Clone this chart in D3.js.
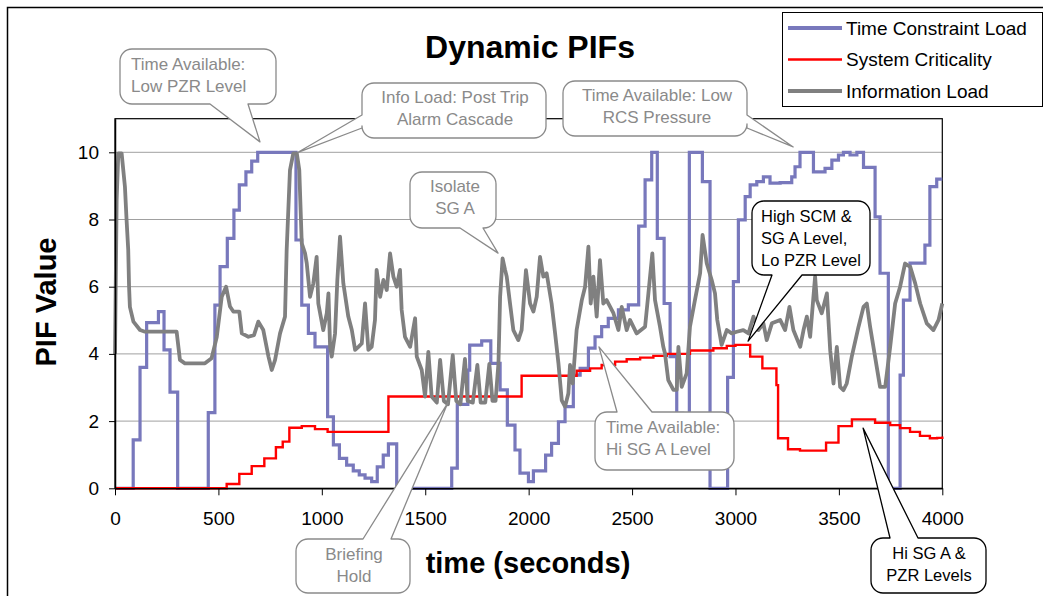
<!DOCTYPE html>
<html>
<head>
<meta charset="utf-8">
<script src="https://cdn.jsdelivr.net/npm/d3@7"></script>
<style>
  body { margin: 0; background: #fff; }
  text { font-family: "Liberation Sans", Arial, sans-serif; }
</style>
</head>
<body>
<div id="chart"></div>
<script>
// series names + tick labels
var seriesNames = ["Time Constraint Load", "System Criticality", "Information Load"];
var xTicks = [0, 500, 1000, 1500, 2000, 2500, 3000, 3500, 4000];
var yTicks = [0, 2, 4, 6, 8, 10];

// [time (s), PIF value] -- step series
var timeConstraint = [
  [0,0],[88,1.44],[121,3.6],[153,4.93],[210,5.26],[237,4.12],[266,2.86],[303,0],
  [451,2.25],[483,5.45],[508,6.6],[543,7.44],[575,8.28],[601,9.03],[633,9.42],[661,9.74],
  [690,10],[875,7.39],[903,5.45],[935,4.61],[967,4.21],[1028,2.13],[1056,1.29],[1085,0.89],
  [1120,0.69],[1152,0.52],[1181,0.4],[1209,0.3],[1241,0.2],[1268,0.64],[1297,0.99],[1322,1.32],
  [1362,0.05],[1400,0],[1628,0.6],[1655,2.5],[1706,3.52],[1715,4.26],[1773,4.39],[1817,3.72],
  [1862,2.93],[1897,1.88],[1934,1.14],[1958,0.45],[1999,0.2],[2023,0.52],[2082,0.99],[2111,1.34],
  [2144,1.98],[2176,2.43],[2216,3.37],[2249,3.57],[2289,4.17],[2321,4.51],[2353,4.81],[2385,5.06],
  [2434,5.31],[2482,5.46],[2532,7.8],[2563,9.18],[2595,10],[2622,7.44],[2655,5.5],[2684,3.92],
  [2716,2.23],[2745,1.0],[2777,10],[2840,9.13],[2877,0],[2962,3.3],[2990,6.15],[3014,7.99],
  [3047,8.68],[3071,9.03],[3103,9.13],[3135,9.27],[3167,9.08],[3216,9.1],[3272,9.27],[3288,9.57],
  [3312,10],[3377,9.42],[3433,9.52],[3466,9.77],[3498,9.92],[3522,10],[3554,9.92],[3587,10],
  [3619,9.55],[3675,8.08],[3699,6.4],[3739,0],[3796,3.37],[3812,5.6],[3844,6.7],[3916,7.24],
  [3940,8.98],[3973,9.2],[4000,9.2]
];

var systemCriticality = [
  [0,0],[540,0.13],[601,0.43],[661,0.66],[722,0.89],[778,1.22],[811,1.39],[843,1.8],
  [903,1.85],[967,1.76],[1028,1.68],[1322,2.73],[1966,3.35],[2232,3.5],[2297,3.57],[2353,3.67],
  [2418,3.77],[2474,3.84],[2539,3.89],[2603,3.94],[2668,4.0],[2780,4.1],[2893,4.17],[2958,4.24],
  [3000,4.27],[3071,3.92],[3130,3.57],[3198,3.07],[3206,1.49],[3254,1.16],[3312,1.12],[3438,1.36],
  [3498,1.85],[3563,2.05],[3675,1.95],[3748,1.88],[3796,1.79],[3844,1.68],[3892,1.56],[3940,1.49],
  [3975,1.5],[4000,1.54]
];

var informationLoad = [
  [0,4.0],[8,8.6],[16,9.97],[32,9.97],[48,8.98],[56,7.98],[64,7.09],[68,6.0],[72,5.4],[89,4.96],
  [121,4.71],[145,4.66],[298,4.66],[314,3.82],[338,3.72],[435,3.72],[467,3.87],[492,4.5],[516,5.7],
  [537,6.0],[556,5.41],[572,5.26],[601,5.26],[613,4.61],[645,4.51],[672,4.56],[693,4.96],[717,4.71],
  [742,3.92],[758,3.52],[774,3.82],[798,4.61],[822,5.11],[830,7.09],[846,9.47],[862,9.97],[879,9.97],
  [891,9.47],[903,7.29],[919,6.99],[927,6.7],[943,5.7],[959,6.1],[975,6.89],[983,5.5],[1007,4.71],
  [1024,5.21],[1032,5.8],[1040,4.21],[1048,3.92],[1064,4.61],[1075,6.2],[1088,7.49],[1104,6.1],
  [1128,5.11],[1145,4.71],[1161,4.12],[1177,4.21],[1193,4.31],[1209,5.5],[1225,4.12],[1241,4.21],
  [1257,5.01],[1265,6.5],[1282,5.7],[1298,6.2],[1314,5.9],[1330,6.99],[1346,6.3],[1362,6.0],
  [1378,6.5],[1386,5.31],[1402,4.51],[1427,4.21],[1451,5.06],[1459,3.92],[1483,3.52],[1499,2.73],
  [1515,4.06],[1531,2.73],[1556,2.55],[1572,3.82],[1590,2.6],[1610,2.5],[1633,3.96],[1650,2.6],
  [1670,2.5],[1692,3.85],[1705,2.6],[1730,2.55],[1752,3.67],[1768,2.55],[1790,2.55],[1810,3.7],
  [1825,2.6],[1840,2.6],[1854,3.72],[1862,5.7],[1874,6.84],[1886,6.5],[1894,6.3],[1910,5.5],
  [1926,4.71],[1950,4.41],[1966,4.71],[1987,6.49],[2007,5.5],[2023,5.26],[2039,5.7],[2055,6.89],
  [2071,6.3],[2087,6.4],[2111,5.5],[2128,4.61],[2144,3.72],[2160,2.62],[2176,2.43],[2192,2.82],
  [2200,3.67],[2213,3.12],[2232,4.71],[2257,5.6],[2273,6.0],[2289,7.19],[2300,5.5],[2313,6.3],
  [2329,5.11],[2345,6.79],[2361,5.5],[2377,5.6],[2410,5.21],[2434,4.71],[2450,5.4],[2474,4.71],
  [2490,5.01],[2522,4.61],[2563,4.81],[2579,5.8],[2598,6.99],[2611,5.6],[2635,4.81],[2651,4.21],
  [2659,4.02],[2675,3.22],[2700,2.93],[2716,2.93],[2724,4.21],[2740,3.02],[2764,3.42],[2780,4.81],
  [2804,5.6],[2829,6.4],[2841,7.54],[2861,6.7],[2885,6.2],[2901,5.8],[2912,5.01],[2933,4.27],
  [2958,4.71],[2982,4.61],[3006,4.66],[3038,4.71],[3063,4.61],[3087,5.11],[3111,4.71],[3135,4.91],
  [3151,4.41],[3176,4.91],[3216,5.01],[3240,4.71],[3261,5.4],[3280,4.71],[3313,4.21],[3329,4.71],
  [3345,5.11],[3361,4.51],[3385,6.3],[3393,5.6],[3417,5.21],[3442,5.8],[3458,4.11],[3474,3.12],
  [3490,4.21],[3506,3.02],[3522,2.92],[3538,3.12],[3562,3.91],[3595,4.81],[3619,5.4],[3635,5.5],
  [3651,4.81],[3675,3.91],[3699,3.02],[3724,3.02],[3748,4.21],[3772,5.5],[3796,6.0],[3820,6.69],
  [3845,6.59],[3869,6.1],[3893,5.5],[3925,4.91],[3957,4.71],[3982,5.01],[4000,5.5]
];

// callouts: box in px, tip in data units
var callouts = [
  { lines: ["Time Available:", "Low PZR Level"], box: [120, 49, 156, 55], side: "bottom", base: [210, 248], tip: [701, 10.31], color: "#8a8a8a", anchor: "start", tx: 131, ty: 70 },
  { lines: ["Info Load: Post Trip", "Alarm Cascade"], box: [362, 83, 184, 55], side: "left", base: [115, 128], tip: [885, 10], color: "#8a8a8a", anchor: "middle", tx: 455, ty: 103 },
  { lines: ["Time Available: Low", "RCS Pressure"], box: [563, 81, 184, 55], side: "right", base: [115, 128], tip: [3279, 10.16], color: "#8a8a8a", anchor: "middle", tx: 657, ty: 101 },
  { lines: ["Isolate", "SG A"], box: [410, 172, 86, 56], side: "bottom", base: [460, 483], tip: [1852, 7.0], color: "#8a8a8a", anchor: "middle", tx: 455, ty: 192 },
  { lines: ["High SCM &", "SG A Level,", "Lo PZR Level"], box: [752, 201, 118, 74], side: "bottom", base: [772, 802], tip: [3061, 4.38], color: "#000", anchor: "start", tx: 761, ty: 221.5 },
  { lines: ["Time Available:", "Hi SG A Level"], box: [595, 412, 139, 58], side: "top", base: [617, 652], tip: [2340, 4.21], color: "#8a8a8a", anchor: "start", tx: 606, ty: 433 },
  { lines: ["Briefing", "Hold"], box: [296, 539, 114, 54], side: "top", base: [363, 391], tip: [1610, 2.55], color: "#8a8a8a", anchor: "middle", tx: 354, ty: 560 },
  { lines: ["Hi SG A &", "PZR Levels"], box: [871, 538, 115, 55], side: "top", base: [890, 918], tip: [3617, 1.79], color: "#000", anchor: "middle", tx: 929, ty: 559 }
];

var W = 1043, H = 596;
var svg = d3.select("#chart").append("svg")
    .attr("width", W)
    .attr("height", H);

// outer chart frame
svg.append("rect")
  .attr("x", 7.5).attr("y", 7.5)
  .attr("width", 1100).attr("height", 700)
  .attr("fill", "#fff").attr("stroke", "#000").attr("stroke-width", 1.5);

var x = d3.scaleLinear().domain([0, 4000]).range([115, 942.3]);
var y = d3.scaleLinear().domain([0, 11]).range([488.3, 118.7]);

// gridlines
svg.append("g").selectAll("line")
    .data(yTicks.filter(function(d) { return d > 0; }))
  .enter().append("line")
    .attr("x1", x(0)).attr("x2", x(4000))
    .attr("y1", function(d) { return y(d); })
    .attr("y2", function(d) { return y(d); })
    .attr("stroke", "#a0a0a0").attr("stroke-width", 1);

// plot frame
svg.append("rect")
  .attr("x", x(0)).attr("y", y(11))
  .attr("width", x(4000) - x(0)).attr("height", y(0) - y(11))
  .attr("fill", "none").attr("stroke", "#000").attr("stroke-width", 1.2);

// series
var stepLine = d3.line()
    .x(function(d) { return x(d[0]); })
    .y(function(d) { return y(d[1]); })
    .curve(d3.curveStepAfter);
var plainLine = d3.line()
    .x(function(d) { return x(d[0]); })
    .y(function(d) { return y(d[1]); });

svg.append("path").datum(timeConstraint)
  .attr("d", stepLine).attr("fill", "none")
  .attr("stroke", "#7878bc").attr("stroke-width", 3.2);
svg.append("path").datum(systemCriticality)
  .attr("d", stepLine).attr("fill", "none")
  .attr("stroke", "#ff0000").attr("stroke-width", 2.4);
svg.append("path").datum(informationLoad)
  .attr("d", plainLine).attr("fill", "none")
  .attr("stroke", "#808080").attr("stroke-width", 3.8)
  .attr("stroke-linejoin", "round");

// axes
var xAxis = svg.append("g")
    .attr("transform", "translate(0," + y(0) + ")")
    .call(d3.axisBottom(x).tickValues(xTicks).tickFormat(d3.format("d"))
      .tickSize(7).tickPadding(16).tickSizeOuter(0));
var yAxis = svg.append("g")
    .attr("transform", "translate(" + x(0) + ",0)")
    .call(d3.axisLeft(y).tickValues(yTicks).tickFormat(d3.format("d"))
      .tickSize(6).tickPadding(10).tickSizeOuter(0));
[xAxis, yAxis].forEach(function(a) {
  a.select(".domain").attr("stroke", "#000").attr("stroke-width", 1.5);
  a.selectAll(".tick line").attr("stroke", "#000");
  a.selectAll("text")
    .style("font-family", "'Liberation Sans', Arial, sans-serif")
    .style("font-size", "19px").attr("fill", "#000");
});

// titles
svg.append("text")
  .attr("x", 530).attr("y", 58)
  .attr("text-anchor", "middle")
  .style("font-size", "32px").style("font-weight", "bold")
  .text("Dynamic PIFs");
svg.append("text")
  .attr("x", 528).attr("y", 573)
  .attr("text-anchor", "middle")
  .style("font-size", "29px").style("font-weight", "bold")
  .text("time (seconds)");
svg.append("text")
  .attr("transform", "translate(56,302) rotate(-90)")
  .attr("text-anchor", "middle")
  .style("font-size", "29px").style("font-weight", "bold")
  .text("PIF Value");

// callouts
function calloutPath(c) {
  var bx = c.box[0], by = c.box[1], bw = c.box[2], bh = c.box[3], r = 12;
  var t = [x(c.tip[0]), y(c.tip[1])];
  var a1 = c.base[0], a2 = c.base[1];
  var p = "M" + (bx + r) + "," + by;
  if (c.side === "top") p += "L" + a1 + "," + by + "L" + t + "L" + a2 + "," + by;
  p += "L" + (bx + bw - r) + "," + by + "A" + r + "," + r + " 0 0 1 " + (bx + bw) + "," + (by + r);
  if (c.side === "right") p += "L" + (bx + bw) + "," + a1 + "L" + t + "L" + (bx + bw) + "," + a2;
  p += "L" + (bx + bw) + "," + (by + bh - r) + "A" + r + "," + r + " 0 0 1 " + (bx + bw - r) + "," + (by + bh);
  if (c.side === "bottom") p += "L" + a2 + "," + (by + bh) + "L" + t + "L" + a1 + "," + (by + bh);
  p += "L" + (bx + r) + "," + (by + bh) + "A" + r + "," + r + " 0 0 1 " + bx + "," + (by + bh - r);
  if (c.side === "left") p += "L" + bx + "," + a2 + "L" + t + "L" + bx + "," + a1;
  p += "L" + bx + "," + (by + r) + "A" + r + "," + r + " 0 0 1 " + (bx + r) + "," + by + "Z";
  return p;
}

var co = svg.append("g").selectAll("g")
    .data(callouts)
  .enter().append("g");
co.append("path")
  .attr("d", calloutPath)
  .attr("fill", "#fff")
  .attr("stroke", function(d) { return d.color; })
  .attr("stroke-width", 1.3)
  .attr("stroke-linejoin", "round");
co.each(function(d) {
  var g = d3.select(this);
  d.lines.forEach(function(s, i) {
    g.append("text")
      .attr("x", d.tx).attr("y", d.ty + i * 22)
      .attr("text-anchor", d.anchor)
      .attr("fill", d.color)
      .style("font-size", d.color === "#000" ? "16.5px" : "17px")
      .text(s);
  });
});

// legend
var legend = svg.append("g");
legend.append("rect")
  .attr("x", 782.5).attr("y", 12.5)
  .attr("width", 260).attr("height", 94)
  .attr("fill", "#fff").attr("stroke", "#000").attr("stroke-width", 1);
var legendColors = ["#7878bc", "#ff0000", "#808080"];
var legendWidths = [4, 2.5, 4];
var li = legend.selectAll(".item")
    .data(seriesNames)
  .enter().append("g")
    .attr("class", "item")
    .attr("transform", function(d, i) { return "translate(0," + (28 + i * 31.5) + ")"; });
li.append("line")
  .attr("x1", 788).attr("x2", 842)
  .attr("stroke", function(d, i) { return legendColors[i]; })
  .attr("stroke-width", function(d, i) { return legendWidths[i]; });
li.append("text")
  .attr("x", 846).attr("dy", "0.35em")
  .style("font-size", "19px")
  .text(function(d) { return d; });
</script>
</body>
</html>
